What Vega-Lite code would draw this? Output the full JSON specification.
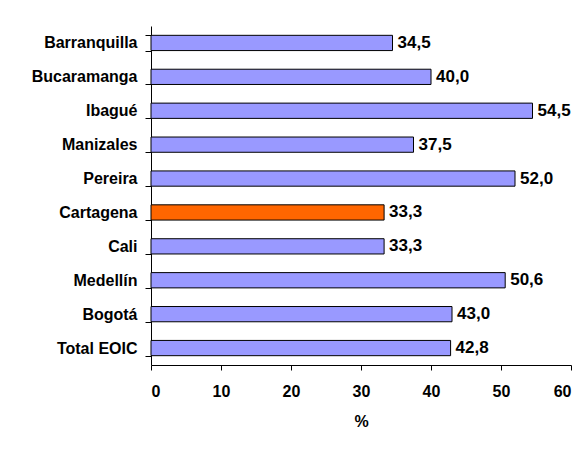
{
  "$schema": "https://vega.github.io/schema/vega-lite/v6.json",
  "autosize": "none",
  "width": 420,
  "height": 339,
  "padding": {"left": 151, "top": 26, "right": 15, "bottom": 86},
  "background": "white",
  "config": {
    "view": {"stroke": null},
    "locale": {"number": {"decimal": ",", "thousands": ".", "grouping": [3], "currency": ["$", ""]}},
    "font": "Liberation Sans"
  },
  "data": {
    "values": [
      {"city": "Barranquilla", "value": 34.5},
      {"city": "Bucaramanga", "value": 40.0},
      {"city": "Ibagué", "value": 54.5},
      {"city": "Manizales", "value": 37.5},
      {"city": "Pereira", "value": 52.0},
      {"city": "Cartagena", "value": 33.3},
      {"city": "Cali", "value": 33.3},
      {"city": "Medellín", "value": 50.6},
      {"city": "Bogotá", "value": 43.0},
      {"city": "Total EOIC", "value": 42.8}
    ]
  },
  "encoding": {
    "y": {
      "field": "city", "type": "nominal", "sort": null,
      "scale": {"paddingInner": 0.55, "paddingOuter": 0.275},
      "axis": {
        "title": null, "labelFont": "Liberation Sans", "labelFontWeight": "bold",
        "labelFontSize": 16, "labelColor": "black", "tickColor": "black",
        "domainColor": "black", "tickSize": 6, "labelPadding": 8,
        "tickBand": "extent", "grid": false
      }
    },
    "x": {
      "field": "value", "type": "quantitative",
      "scale": {"domain": [0, 60], "nice": false},
      "axis": {
        "values": [0, 10, 20, 30, 40, 50, 60], "title": "%", "grid": false,
        "labelFont": "Liberation Sans", "labelFontWeight": "bold", "labelFontSize": 16,
        "labelColor": "black", "tickColor": "black", "domainColor": "black",
        "tickSize": 5, "labelPadding": 13, "format": "d",
        "titleFont": "Liberation Sans", "titleFontWeight": "bold", "titleFontSize": 16,
        "titleColor": "black", "titlePadding": 14
      }
    }
  },
  "layer": [
    {
      "mark": {"type": "bar", "stroke": "black", "strokeWidth": 1},
      "encoding": {
        "color": {
          "condition": {"test": "datum.city === 'Cartagena'", "value": "#FF6600"},
          "value": "#9999FF"
        }
      }
    },
    {
      "mark": {"type": "text", "align": "left", "baseline": "middle", "dx": 5,
               "font": "Liberation Sans", "fontWeight": "bold", "fontSize": 17, "color": "black"},
      "encoding": {
        "text": {"field": "value", "type": "quantitative", "format": ".1f"}
      }
    }
  ]
}
